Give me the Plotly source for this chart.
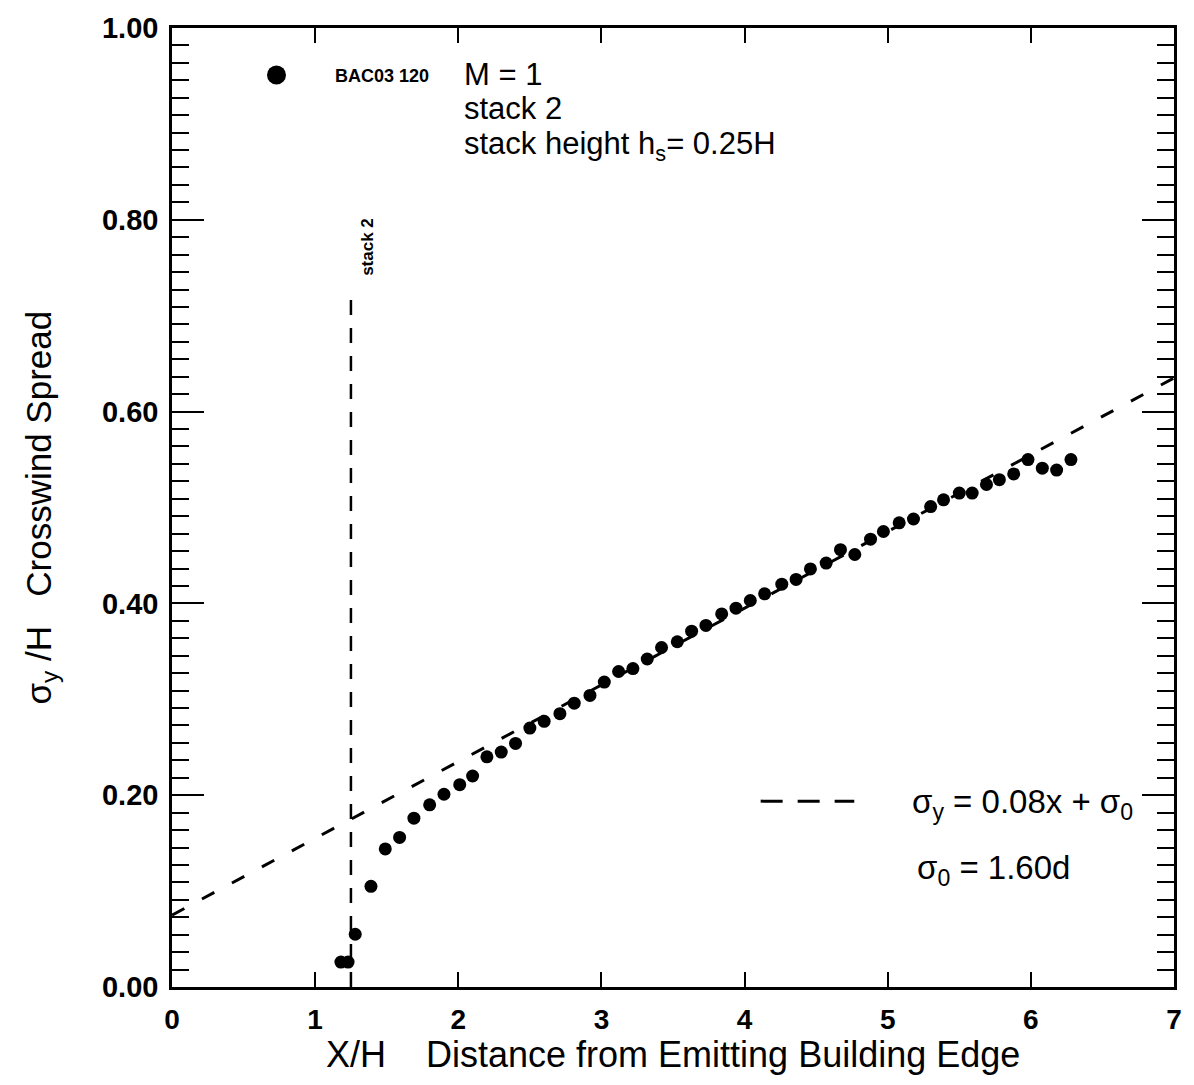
import plotly.graph_objects as go

# Measured crosswind spread, BAC03 run 120 (M = 1, stack 2, hs = 0.25H)
x_over_h = [1.18, 1.23, 1.28, 1.39, 1.49, 1.59, 1.69, 1.80, 1.90, 2.01,
            2.10, 2.20, 2.30, 2.40, 2.50, 2.60, 2.71, 2.81, 2.92, 3.02,
            3.12, 3.22, 3.32, 3.42, 3.53, 3.63, 3.73, 3.84, 3.94, 4.04,
            4.14, 4.26, 4.36, 4.46, 4.57, 4.67, 4.77, 4.88, 4.97, 5.08,
            5.18, 5.30, 5.39, 5.50, 5.59, 5.69, 5.78, 5.88, 5.98, 6.08,
            6.18, 6.28]
sigma_y_over_h = [0.026, 0.026, 0.055, 0.105, 0.144, 0.156, 0.176, 0.190, 0.201, 0.211,
                  0.220, 0.240, 0.245, 0.254, 0.270, 0.277, 0.285, 0.296, 0.304, 0.318,
                  0.329, 0.332, 0.342, 0.354, 0.360, 0.371, 0.377, 0.389, 0.395, 0.403,
                  0.410, 0.420, 0.425, 0.436, 0.442, 0.456, 0.451, 0.467, 0.475, 0.484,
                  0.488, 0.501, 0.508, 0.515, 0.515, 0.524, 0.529, 0.535, 0.550, 0.541,
                  0.539, 0.550]

# Fitted spread line sigma_y = 0.08x + sigma_0, end points
fit_x = [0.0, 7.0]
fit_y = [0.075, 0.635]

# Stack 2 location
stack_x = [1.25, 1.25]
stack_y = [0.0, 0.725]

# Legend marker position (data units)
legend_dot_x = [0.73]
legend_dot_y = [0.951]

x_ticks = [0, 1, 2, 3, 4, 5, 6, 7]
x_long_ticks = [0, 2, 4, 6]
y_ticks = [0.0, 0.2, 0.4, 0.6, 0.8, 1.0]
y_tick_text = ["0.00", "0.20", "0.40", "0.60", "0.80", "1.00"]

FONT = "Liberation Sans, Arial, Helvetica, sans-serif"
BLACK = "#000000"

fig = go.Figure()

fig.add_trace(go.Scatter(
    x=fit_x, y=fit_y, mode="lines",
    line=dict(color=BLACK, width=3, dash="14px,20px"),
    showlegend=False, hoverinfo="skip"))

fig.add_trace(go.Scatter(
    x=stack_x, y=stack_y, mode="lines",
    line=dict(color=BLACK, width=2.5, dash="15px,13px"),
    showlegend=False, hoverinfo="skip"))

fig.add_trace(go.Scatter(
    x=x_over_h, y=sigma_y_over_h, mode="markers",
    marker=dict(color=BLACK, size=13, line=dict(width=0)),
    showlegend=False))

fig.add_trace(go.Scatter(
    x=legend_dot_x, y=legend_dot_y, mode="markers",
    marker=dict(color=BLACK, size=19, line=dict(width=0)),
    showlegend=False, hoverinfo="skip"))

# dashed-line key, bottom right
fig.add_shape(type="line", xref="paper", yref="paper",
              x0=(763 - 172) / 1006, x1=(857 - 172) / 1006,
              y0=(987 - 800) / 965, y1=(987 - 800) / 965,
              line=dict(color=BLACK, width=3, dash="22px,15px"))

def note(text, x, y, size, xanchor="left", yanchor="middle", angle=0, weight="normal"):
    fig.add_annotation(text=text, xref="paper", yref="paper", x=x, y=y,
                       xanchor=xanchor, yanchor=yanchor, showarrow=False,
                       textangle=angle,
                       font=dict(family=FONT, size=size, color=BLACK, weight=weight))

px = lambda p: (p - 172) / 1006
py = lambda p: (987 - p) / 965

note("BAC03 120", px(334), py(70), 18, weight="bold")
note("M = 1", px(463), py(69), 31)
note("stack 2", px(463), py(103), 31)
note("stack height h<sub>s</sub>= 0.25H", px(463), py(141), 31)
note("stack 2", px(368), py(242), 17, xanchor="center", angle=-90, weight="bold")
note("σ<sub>y</sub> = 0.08x + σ<sub>0</sub>", px(913), py(803), 33)
note("σ<sub>0</sub> = 1.60d", px(918), py(869), 33)

note("X/H\u00a0\u00a0\u00a0\u00a0Distance from Emitting Building Edge",
     px(675), py(1055), 36, xanchor="center")
note("σ<sub>y</sub> /H\u00a0\u00a0\u00a0Crosswind Spread",
     px(40), py(505), 35, xanchor="center", angle=-90)

axis_common = dict(showline=True, linecolor=BLACK, linewidth=2.5, mirror="ticks",
                   ticks="inside", tickcolor=BLACK, showgrid=False, zeroline=False)

fig.update_layout(
    width=1194, height=1085,
    margin=dict(l=172, r=16, t=22, b=98),
    paper_bgcolor="white", plot_bgcolor="white",
    font=dict(family=FONT, color=BLACK),
    xaxis=dict(range=[0, 7], tickvals=x_ticks, ticktext=[str(v) for v in x_ticks],
               ticklen=15, tickwidth=1.5, ticklabelstandoff=6,
               tickfont=dict(family=FONT, size=28, color=BLACK, weight="bold"),
               **axis_common),
    xaxis2=dict(range=[0, 7], overlaying="x", anchor="y", side="bottom",
                tickvals=x_long_ticks, ticklen=30, tickwidth=1.5,
                showticklabels=False, showline=False, mirror="ticks",
                ticks="inside", tickcolor=BLACK, showgrid=False, zeroline=False),
    yaxis=dict(range=[0, 1.0], tickvals=y_ticks, ticktext=y_tick_text,
               ticklen=32, tickwidth=1.5, ticklabelstandoff=5,
               tickfont=dict(family=FONT, size=29, color=BLACK, weight="bold"),
               minor=dict(dtick=0.2 / 11, tick0=0, ticklen=17, tickwidth=1.5,
                          ticks="inside", tickcolor=BLACK, showgrid=False),
               **axis_common),
)

fig.write_html("out.html")
